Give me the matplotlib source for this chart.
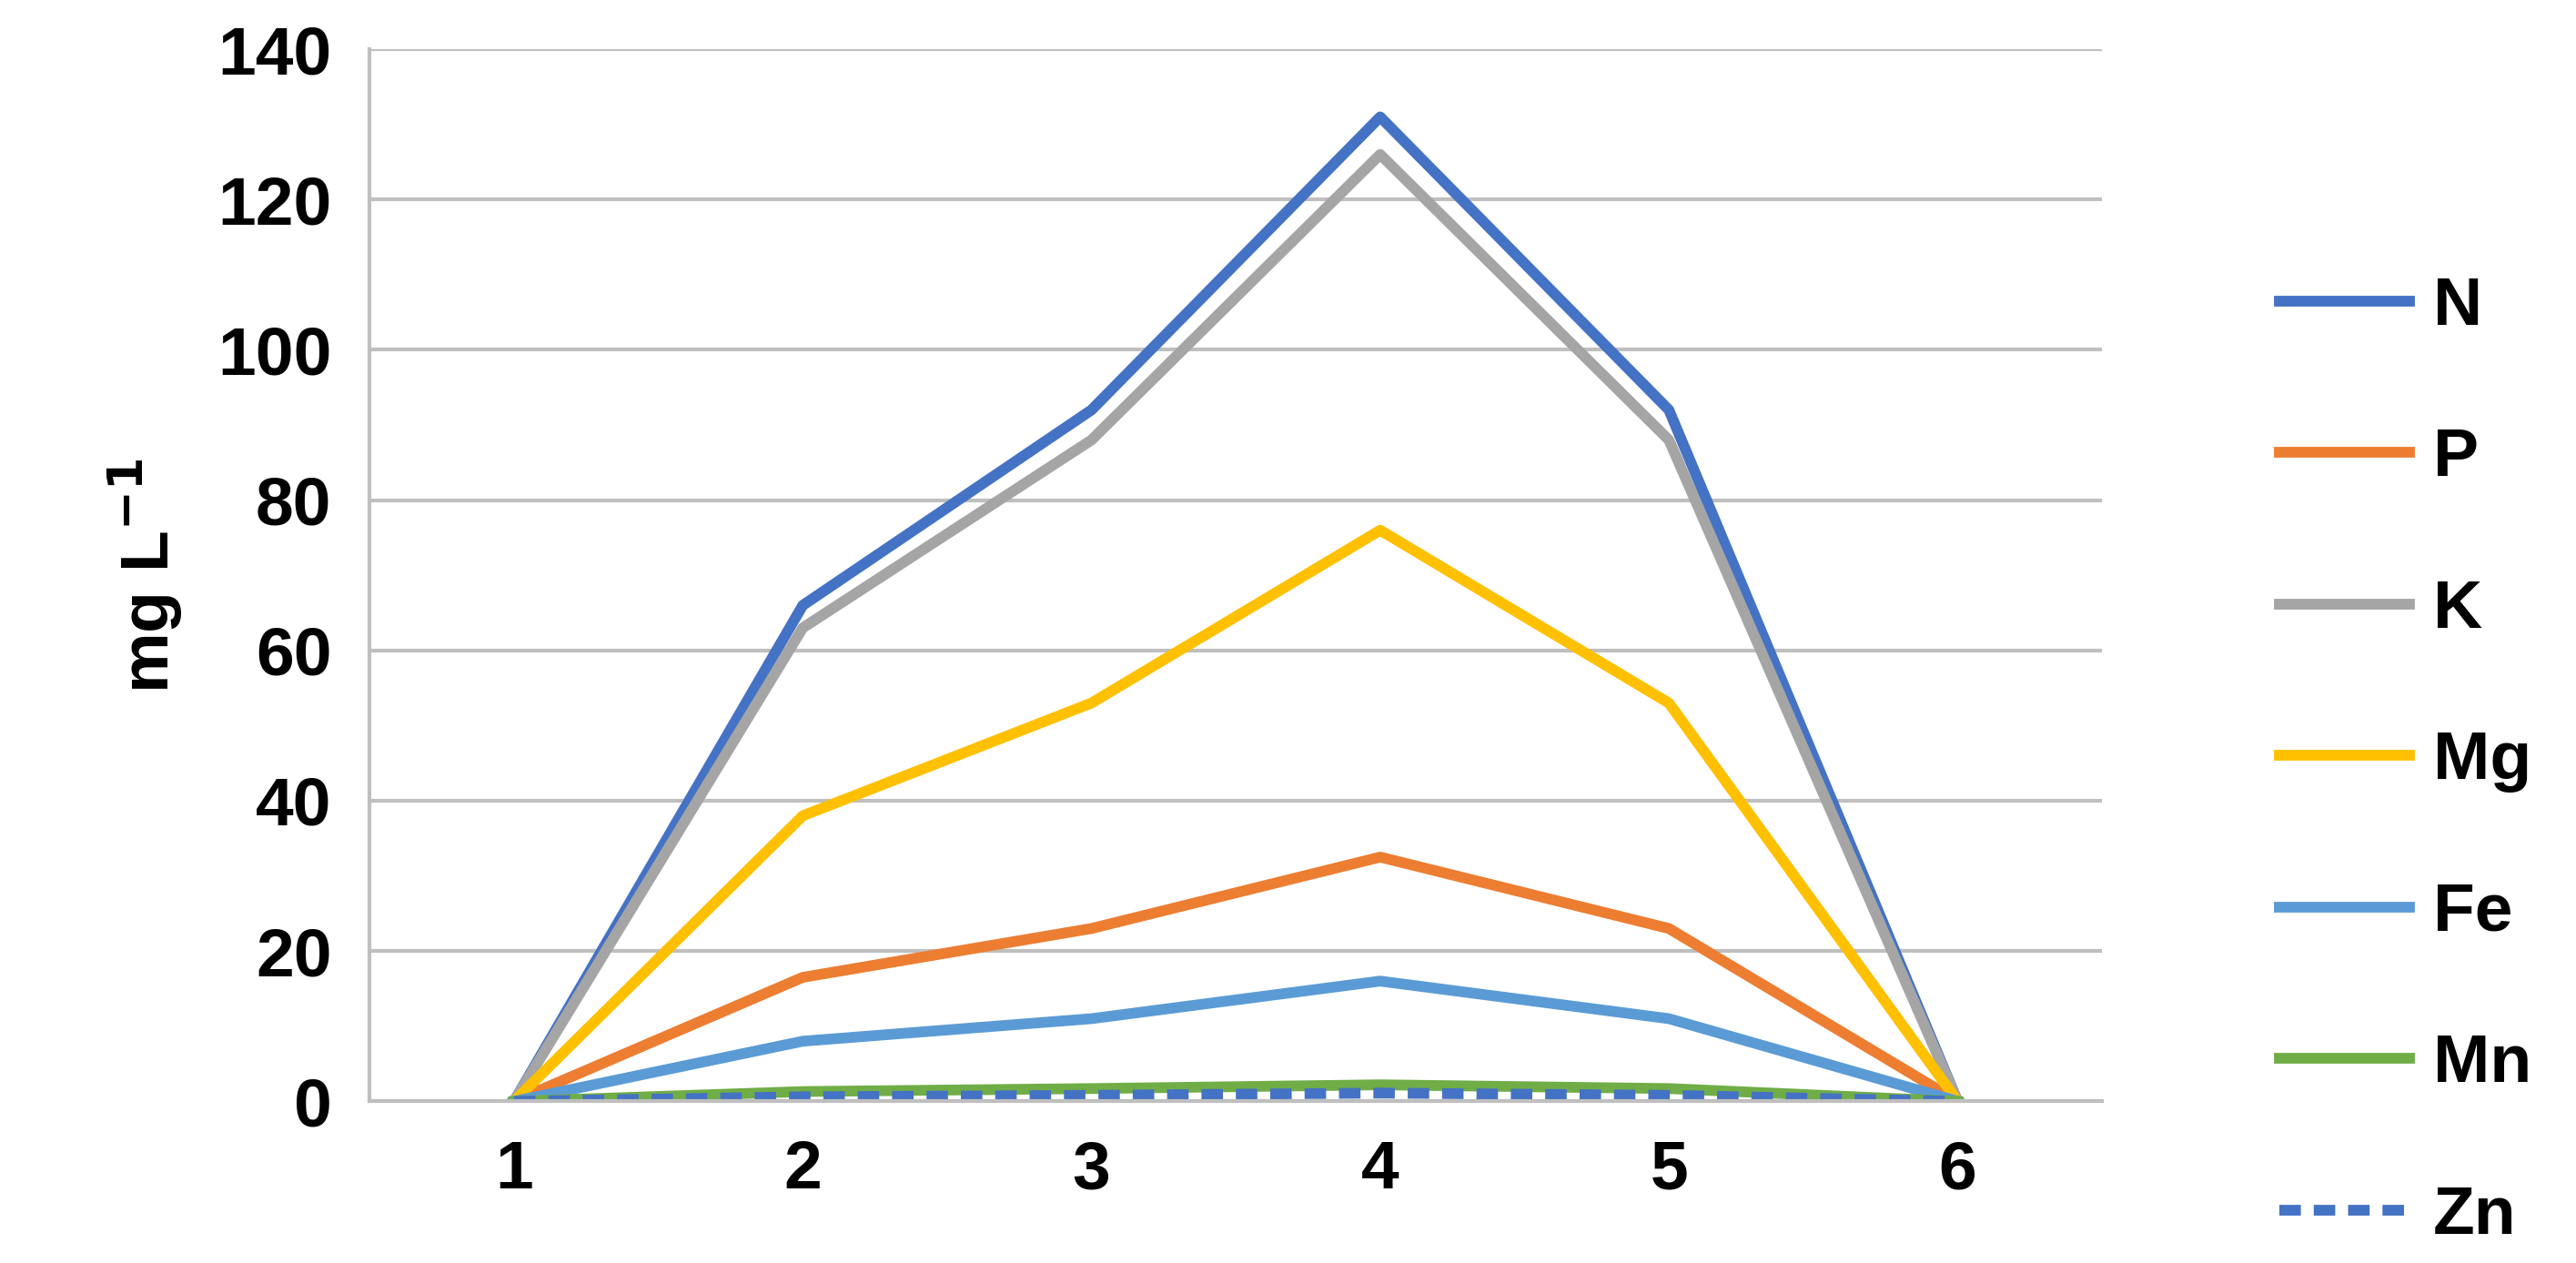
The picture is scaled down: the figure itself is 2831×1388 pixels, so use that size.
import matplotlib
matplotlib.use('Agg')
import matplotlib.pyplot as plt

plt.rcParams['font.family'] = ['Calibri', 'Liberation Sans', 'DejaVu Sans']
plt.rcParams['font.weight'] = 'bold'

x = [1, 2, 3, 4, 5, 6]
n_vals = [0, 66, 92, 131, 92, 0]
p_vals = [0, 16.5, 23, 32.5, 23, 0]
k_vals = [0, 63, 88, 126, 88, 0]
mg_vals = [0, 38, 53, 76, 53, 0]
fe_vals = [0, 8, 11, 16, 11, 0]
mn_vals = [0, 1.3, 1.7, 2.2, 1.7, 0]
zn_vals = [0, 0.6, 0.8, 1.1, 0.8, 0]

series = [
    ('N', n_vals, '#4472C4', '-'),
    ('P', p_vals, '#ED7D31', '-'),
    ('K', k_vals, '#A5A5A5', '-'),
    ('Mg', mg_vals, '#FFC000', '-'),
    ('Fe', fe_vals, '#5B9BD5', '-'),
    ('Mn', mn_vals, '#70AD47', '-'),
    ('Zn', zn_vals, '#4472C4', '--'),
]

fig = plt.figure(figsize=(28.31, 13.88), dpi=100)
ax = fig.add_axes([0.1435, 0.128, 0.6725, 0.833])

for name, vals, col, ls in series:
    ax.plot(x, vals, color=col, lw=8.5, ls=ls, label=name,
            dashes=(2.0, 1.2) if ls == '--' else (None, None))

ax.set_xlim(0.5, 6.5)
ax.set_ylim(0, 140)
ax.set_yticks(range(0, 141, 20))
ax.set_xticks(x)
ax.grid(axis='y', color='#BFBFBF', lw=3)
ax.set_axisbelow(True)
for s in ['top', 'right']:
    ax.spines[s].set_visible(False)
ax.spines['left'].set_color('#BFBFBF')
ax.spines['left'].set_linewidth(3)
ax.spines['bottom'].set_color('#BFBFBF')
ax.spines['bottom'].set_linewidth(3)
ax.tick_params(length=0, labelsize=54, pad=30)
for lab in ax.get_xticklabels() + ax.get_yticklabels():
    lab.set_fontweight('bold')
ax.set_ylabel('mg L$^{\\mathbf{-1}}$', fontsize=54, fontweight='bold', labelpad=25)

fig.legend(loc='center left', bbox_to_anchor=(0.885, 0.397), frameon=False,
           fontsize=54, handlelength=1.9, labelspacing=1.3, handletextpad=0.35,
           borderpad=0, borderaxespad=0)

fig.savefig('out.png', dpi=100)
